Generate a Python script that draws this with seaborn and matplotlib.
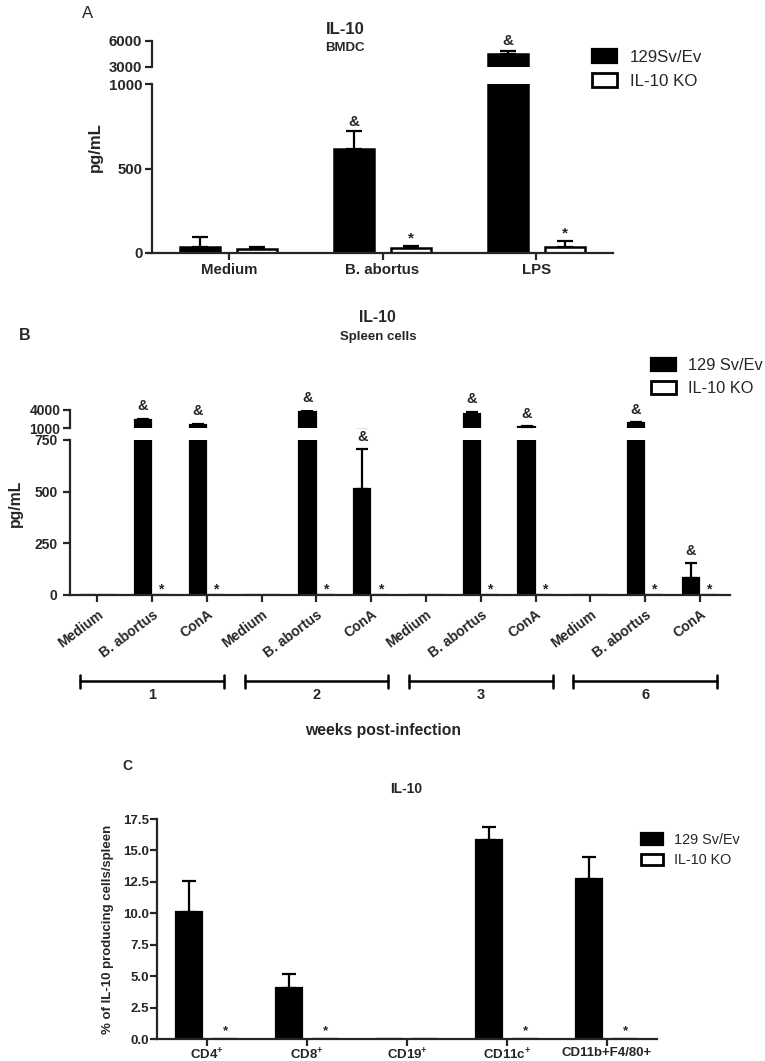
import numpy as np
import pandas as pd
import matplotlib
matplotlib.use("Agg")
import matplotlib.pyplot as plt
import seaborn as sns
from matplotlib.patches import Patch
from matplotlib.container import BarContainer
from matplotlib.transforms import blended_transform_factory

# ---------------- data ----------------
a_strains = ["129Sv/Ev", "IL-10 KO"]
a_categories = ["Medium", "B. abortus", "LPS"]
a_wt_mean = [35, 615, 4465]
a_wt_err = [60, 105, 385]
a_ko_mean = [22, 28, 38]
a_ko_err = [15, 15, 35]
a_wt_mark = ["", "&", "&"]
a_ko_mark = ["", "*", "*"]

b_strains = ["129 Sv/Ev", "IL-10 KO"]
b_weeks = ["1", "2", "3", "6"]
b_keys = ["1-Medium", "1-B. abortus", "1-ConA",
          "2-Medium", "2-B. abortus", "2-ConA",
          "3-Medium", "3-B. abortus", "3-ConA",
          "6-Medium", "6-B. abortus", "6-ConA"]
b_labels = ["Medium", "B. abortus", "ConA",
            "Medium", "B. abortus", "ConA",
            "Medium", "B. abortus", "ConA",
            "Medium", "B. abortus", "ConA"]
b_wt_mean = [0, 2300, 1580, 0, 3660, 515, 0, 3270, 1170, 0, 1750, 81]
b_wt_err = [0, 250, 150, 0, 250, 190, 0, 400, 150, 0, 200, 72]
b_ko_mean = [0, 0, 0, 0, 0, 0, 0, 0, 0, 0, 0, 0]
b_ko_err = [0, 0, 0, 0, 0, 0, 0, 0, 0, 0, 0, 0]
b_wt_mark = ["", "&", "&", "", "&", "&", "", "&", "&", "", "&", "&"]
b_ko_mark = ["", "*", "*", "", "*", "*", "", "*", "*", "", "*", "*"]

c_strains = ["129 Sv/Ev", "IL-10 KO"]
c_categories = ["CD4+", "CD8+", "CD19+", "CD11c+", "CD11b+F4/80+"]
c_labels = ["CD4$^{+}$", "CD8$^{+}$", "CD19$^{+}$", "CD11c$^{+}$", "CD11b+F4/80+"]
c_wt_mean = [10.1, 4.08, 0, 15.8, 12.7]
c_wt_err = [2.45, 1.1, 0, 1.1, 1.75]
c_ko_mean = [0, 0, 0, 0, 0]
c_ko_err = [0, 0, 0, 0, 0]
c_wt_mark = ["", "", "", "", ""]
c_ko_mark = ["*", "*", "", "*", "*"]

# ---------------- style ----------------
sns.set_style("ticks")
plt.rcParams["font.family"] = ["Liberation Sans", "DejaVu Sans"]
plt.rcParams["mathtext.fontset"] = "custom"
plt.rcParams["mathtext.rm"] = "Liberation Sans:bold"
plt.rcParams["mathtext.it"] = "Liberation Sans:bold"
plt.rcParams["mathtext.bf"] = "Liberation Sans:bold"
plt.rcParams["axes.linewidth"] = 1.6

W, H = 765, 1061
fig = plt.figure(figsize=(W / 100, H / 100), dpi=100)


def box(x0, y0, x1, y1):
    return [x0 / W, 1 - y1 / H, (x1 - x0) / W, (y1 - y0) / H]


def ftext(x, y, s, **kw):
    fig.text(x / W, 1 - y / H, s, ha=kw.pop("ha", "center"), va=kw.pop("va", "center"), **kw)


def draw_bars(ax, cats, wt, ko, names, width, gap, lw):
    df = pd.DataFrame({
        "cat": list(cats) * 2,
        "value": list(wt) + list(ko),
        "strain": [names[0]] * len(cats) + [names[1]] * len(cats),
    })
    sns.barplot(data=df, x="cat", y="value", hue="strain", order=cats, hue_order=names,
                palette={names[0]: "black", names[1]: "white"}, saturation=1,
                edgecolor="black", linewidth=lw, width=width, gap=gap,
                errorbar=None, legend=False, ax=ax)
    ax.set_xlabel("")
    ax.set_ylabel("")
    conts = [sorted(c.patches, key=lambda p: p.get_x())
             for c in ax.containers if isinstance(c, BarContainer)]
    return conts


def add_err(ax, bars, err, cap, lw):
    for bar, e in zip(bars, err):
        if e > 0:
            x = bar.get_x() + bar.get_width() / 2
            y = bar.get_height()
            ax.errorbar([x], [y], yerr=[[0], [e]], fmt="none", ecolor="black",
                        elinewidth=lw, capsize=cap, capthick=lw, zorder=1)


def add_marks(axes, bars, means, errs, marks, dy, size):
    for bar, m, e, mk in zip(bars, means, errs, marks):
        if not mk:
            continue
        top = m + e
        target = axes[-1]
        for a in axes:
            lo, hi = a.get_ylim()
            if lo <= top <= hi:
                target = a
                break
        x = bar.get_x() + bar.get_width() / 2
        target.annotate(mk, (x, top), xytext=(0, dy), textcoords="offset points",
                        ha="center", va="bottom", fontsize=size, fontweight="bold",
                        annotation_clip=False)


def style_lower(ax, labelsize, pad=2):
    sns.despine(ax=ax)
    ax.tick_params(axis="both", width=1.6, length=5, labelsize=labelsize, pad=pad)
    for lab in ax.get_xticklabels() + ax.get_yticklabels():
        lab.set_fontweight("bold")


def style_upper(ax, labelsize):
    sns.despine(ax=ax, bottom=True)
    ax.tick_params(axis="x", bottom=False, labelbottom=False)
    ax.tick_params(axis="y", width=1.6, length=5, labelsize=labelsize, pad=2)
    for lab in ax.get_yticklabels():
        lab.set_fontweight("bold")


def legend(names, x, y, size, spacing):
    handles = [Patch(facecolor="black", edgecolor="black", linewidth=1.6),
               Patch(facecolor="white", edgecolor="black", linewidth=2.0)]
    fig.legend(handles, names, loc="upper left", bbox_to_anchor=(x / W, 1 - y / H),
               frameon=False, fontsize=size, handlelength=1.5, handleheight=0.85,
               handletextpad=0.75, labelspacing=spacing, borderpad=0, borderaxespad=0)


# ================= Panel A =================
axA = fig.add_axes(box(152, 84, 613, 253))
axA_up = fig.add_axes(box(152, 41, 613, 67))
contsA = None
for ax, lim, ticks in [(axA, (0, 1000), [0, 500, 1000]), (axA_up, (3000, 6000), [3000, 6000])]:
    conts = draw_bars(ax, a_categories, a_wt_mean, a_ko_mean, a_strains, 0.745, 0.30, 1.8)
    if contsA is None:
        contsA = conts
    add_err(ax, conts[0], a_wt_err, 5.5, 1.6)
    add_err(ax, conts[1], a_ko_err, 5.5, 1.6)
    ax.set_ylim(*lim)
    ax.set_yticks(ticks)
    ax.set_xlim(-0.5, 2.5)
add_marks([axA, axA_up], contsA[0], a_wt_mean, a_wt_err, a_wt_mark, 2, 11)
add_marks([axA, axA_up], contsA[1], a_ko_mean, a_ko_err, a_ko_mark, 0, 11)
axA.set_xticks(range(len(a_categories)))
axA.set_xticklabels(a_categories)
style_lower(axA, 10.8)
style_upper(axA_up, 10.8)
legend(a_strains, 592, 49, 12.2, 0.5)
ftext(88, 13, "A", fontsize=12)
ftext(345, 29, "IL-10", fontsize=12, fontweight="bold")
ftext(345, 48, "BMDC", fontsize=9.5, fontweight="bold")
ftext(95, 147, "pg/mL", fontsize=12, fontweight="bold", rotation=90)

# ================= Panel B =================
axB = fig.add_axes(box(70, 440, 730, 595))
axB_up = fig.add_axes(box(70, 410, 730, 428))
contsB = None
for ax, lim, ticks in [(axB, (0, 750), [0, 250, 500, 750]), (axB_up, (1000, 4000), [1000, 4000])]:
    conts = draw_bars(ax, b_keys, b_wt_mean, b_ko_mean, b_strains, 0.66, 0.10, 1.6)
    if contsB is None:
        contsB = conts
    add_err(ax, conts[0], b_wt_err, 4, 1.6)
    ax.set_ylim(*lim)
    ax.set_yticks(ticks)
    ax.set_xlim(-0.5, 11.55)
add_marks([axB, axB_up], contsB[0], b_wt_mean, b_wt_err, b_wt_mark, 4, 10.5)
add_marks([axB, axB_up], contsB[1], b_ko_mean, b_ko_err, b_ko_mark, -1, 10)
axB.set_xticks(range(len(b_keys)))
axB.set_xticklabels(b_labels, rotation=37, ha="right", rotation_mode="anchor")
style_lower(axB, 10, pad=4)
style_upper(axB_up, 10)
legend(b_strains, 651, 358, 11.8, 0.47)
ftext(25, 335, "B", fontsize=11.5, fontweight="bold")
ftext(377, 318, "IL-10", fontsize=11.3, fontweight="bold")
ftext(378, 337, "Spleen cells", fontsize=9.5, fontweight="bold")
ftext(15, 503, "pg/mL", fontsize=11.3, fontweight="bold", rotation=90)

tr = blended_transform_factory(axB.transData, fig.transFigure)
for g, wk in enumerate(b_weeks):
    mid = 3 * g + 1
    x0, x1 = mid - 1.31, mid + 1.31
    yb = 1 - 681 / H
    axB.plot([x0, x1], [yb, yb], color="black", lw=1.8, transform=tr, clip_on=False)
    for xe in (x0, x1):
        axB.plot([xe, xe], [1 - 675 / H, 1 - 688 / H], color="black", lw=1.8,
                 transform=tr, clip_on=False)
    axB.text(mid, 1 - 695 / H, wk, transform=tr, ha="center", va="center",
             fontsize=10.5, fontweight="bold")
ftext(383, 731, "weeks post-infection", fontsize=11.3, fontweight="bold")

# ================= Panel C =================
axC = fig.add_axes(box(157, 819, 657, 1039))
contsC = draw_bars(axC, c_categories, c_wt_mean, c_ko_mean, c_strains, 0.72, 0.28, 1.6)
add_err(axC, contsC[0], c_wt_err, 5, 1.6)
axC.set_ylim(0, 17.5)
axC.set_yticks([0, 2.5, 5, 7.5, 10, 12.5, 15, 17.5])
axC.set_yticklabels([f"{v:.1f}" for v in [0, 2.5, 5, 7.5, 10, 12.5, 15, 17.5]])
axC.set_xlim(-0.5, 4.5)
add_marks([axC], contsC[1], c_ko_mean, c_ko_err, c_ko_mark, 1, 9.5)
axC.set_xticks(range(len(c_categories)))
axC.set_xticklabels(c_labels)
style_lower(axC, 9.5, pad=1)
legend(c_strains, 641, 833, 10.4, 0.45)
ftext(127, 766, "C", fontsize=10, fontweight="bold")
ftext(406, 789, "IL-10", fontsize=10, fontweight="bold")
ftext(108, 929, "% of IL-10 producing cells/spleen", fontsize=9.5, fontweight="bold", rotation=90)

fig.savefig("out.png", dpi=100)
